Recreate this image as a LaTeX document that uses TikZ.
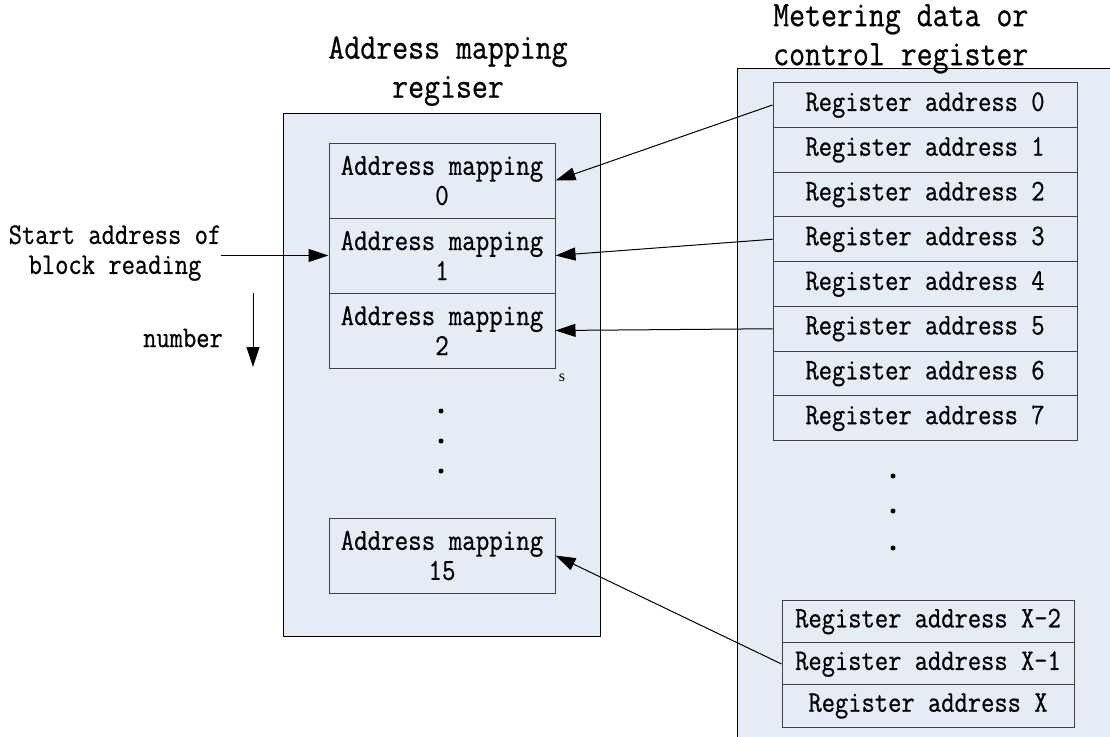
\documentclass[tikz,border=0pt]{standalone}
\usepackage{fontspec}
\newfontfamily\dfont{Latin Modern Mono}[FakeStretch=0.86,FakeBold=0.6]
\newfontfamily\sfnt{Liberation Serif}
\usetikzlibrary{arrows.meta}
\definecolor{bg}{HTML}{E6ECF6}
\begin{document}
\begin{tikzpicture}[x=1pt,y=-1pt,
  panel/.style={draw=black, fill=bg, line width=1pt},
  mapbox/.style={draw=black!75, fill=bg, line width=1pt, minimum width=226pt, minimum height=75pt, inner sep=0pt, align=center, font=\dfont\fontsize{30.5}{30}\selectfont},
  regbox/.style={draw=black!75, fill=bg, line width=1pt, minimum width=304pt, minimum height=44.75pt, inner sep=0pt, font=\dfont\fontsize{30}{30}\selectfont},
  regboxb/.style={regbox, minimum width=292pt, minimum height=42.3pt},
  lbl/.style={inner sep=0pt, font=\dfont\fontsize{30}{30}\selectfont},
  ttl/.style={inner sep=0pt, font=\dfont\fontsize{36}{39}\selectfont},
  conn/.style={line width=1pt, -{Triangle[length=20pt,width=13pt]}},
  dotn/.style={circle, fill=black, inner sep=0pt, minimum size=5pt}
]
\useasboundingbox (0,0) rectangle (1110,736);
% panels
\draw[panel] (283,113) rectangle (600,636);
\begin{scope}
  \clip (0,0) rectangle (1110,736);
  \draw[panel] (737,68) rectangle (1125,750);
\end{scope}
% titles
\node[ttl, align=center, anchor=north] (t1) at (448,36) {Address mapping\\regiser};
\node[ttl, align=left, anchor=north west] (t2) at (773,4) {Metering data or\\control register};
% mapping boxes
\node[mapbox] (m0) at (442,180.5) {Address mapping\\0};
\node[mapbox] (m1) at (442,255.5) {Address mapping\\1};
\node[mapbox] (m2) at (442,330.5) {Address mapping\\2};
\node[mapbox] (m15) at (442,555.5) {Address mapping\\15};
\node[inner sep=0pt, font=\sfnt\fontsize{16}{16}\selectfont] (s) at (562,378) {s};
% dots left
\node[dotn] (dl1) at (441,411) {};
\node[dotn] (dl2) at (441,441) {};
\node[dotn] (dl3) at (441,471) {};
% register boxes
\foreach \i in {0,...,7}
  \node[regbox] (r\i) at (925,{105+44.75*\i}) {Register address \i};
\node[regboxb] (rx2) at (928,621.5) {Register address X-2};
\node[regboxb] (rx1) at (928,664) {Register address X-1};
\node[regboxb] (rx) at (928,706) {Register address X};
% dots right
\node[dotn] (dr1) at (893,476) {};
\node[dotn] (dr2) at (893,511) {};
\node[dotn] (dr3) at (893,548) {};
% left labels
\node[lbl, align=center] (start) at (115,253) {Start address of\\block reading};
\node[lbl] (num) at (183,338) {number};
\coordinate (n1) at (253,293);
\coordinate (n2) at (253,367);
% connectors
\draw[conn] (r0.west) -- (m0.east);
\draw[conn] (r3.west) -- (m1.east);
\draw[conn] (r5.west) -- (m2.east);
\draw[conn] (rx1.west) -- (m15.east);
\draw[conn] (start.east |- m1.west) -- (m1.west);
\draw[conn] (n1) -- (n2);
\end{tikzpicture}
\end{document}
